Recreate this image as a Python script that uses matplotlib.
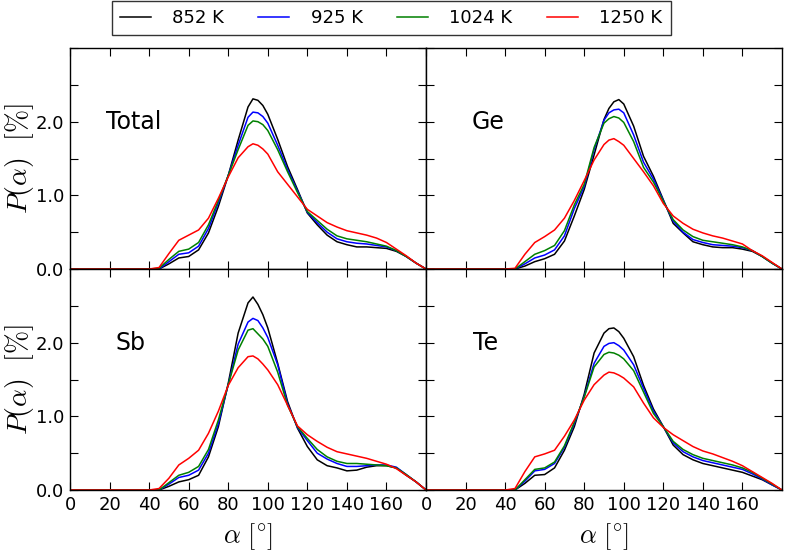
import numpy as np
import matplotlib
matplotlib.use("Agg")
import matplotlib.pyplot as plt
from matplotlib.ticker import FuncFormatter

plt.rcParams['font.family'] = ['DejaVu Sans Condensed', 'Liberation Sans Narrow', 'DejaVu Sans']
plt.rcParams['mathtext.fontset'] = 'cm'

# =========================
# data
# =========================
angle = [0, 40, 45, 50, 55, 60, 65, 70, 75, 80, 85, 90, 92.5, 95, 97.5, 100,
         105, 110, 115, 120, 125, 130, 135, 140, 145, 150, 155, 160, 165, 170, 175, 180]

temps = ["852 K", "925 K", "1024 K", "1250 K"]
colors = ["k", "b", "g", "r"]

total_852 = [0, 0, 0, 0.07, 0.15, 0.17, 0.26, 0.49, 0.85, 1.27, 1.75, 2.20, 2.31, 2.29, 2.22, 2.10,
             1.76, 1.39, 1.08, 0.76, 0.60, 0.46, 0.37, 0.33, 0.30, 0.30, 0.29, 0.28, 0.24, 0.17, 0.08, 0]
total_925 = [0, 0, 0, 0.10, 0.20, 0.22, 0.31, 0.55, 0.90, 1.27, 1.68, 2.06, 2.13, 2.12, 2.07, 1.98,
             1.68, 1.35, 1.06, 0.77, 0.63, 0.50, 0.41, 0.37, 0.35, 0.34, 0.32, 0.30, 0.25, 0.17, 0.08, 0]
total_1024 = [0, 0, 0.01, 0.13, 0.24, 0.27, 0.36, 0.60, 0.93, 1.27, 1.62, 1.95, 2.01, 2.00, 1.96, 1.88,
              1.62, 1.32, 1.04, 0.78, 0.66, 0.54, 0.45, 0.41, 0.39, 0.37, 0.34, 0.31, 0.25, 0.17, 0.08, 0]
total_1250 = [0, 0, 0.02, 0.21, 0.39, 0.46, 0.53, 0.69, 0.96, 1.25, 1.51, 1.66, 1.70, 1.68, 1.63, 1.56,
              1.32, 1.15, 0.98, 0.81, 0.72, 0.63, 0.57, 0.52, 0.49, 0.46, 0.42, 0.36, 0.27, 0.18, 0.08, 0]

ge_852 = [0, 0, 0, 0.04, 0.10, 0.14, 0.20, 0.38, 0.72, 1.08, 1.55, 2.03, 2.18, 2.27, 2.30, 2.24,
          1.94, 1.53, 1.26, 0.94, 0.62, 0.49, 0.37, 0.33, 0.30, 0.29, 0.29, 0.27, 0.24, 0.17, 0.08, 0]
ge_925 = [0, 0, 0, 0.07, 0.15, 0.19, 0.26, 0.45, 0.82, 1.12, 1.62, 2.02, 2.12, 2.16, 2.17, 2.12,
          1.82, 1.45, 1.22, 0.93, 0.65, 0.50, 0.40, 0.36, 0.33, 0.32, 0.31, 0.29, 0.25, 0.17, 0.08, 0]
ge_1024 = [0, 0, 0, 0.10, 0.20, 0.25, 0.32, 0.52, 0.87, 1.15, 1.65, 1.98, 2.04, 2.07, 2.05, 1.99,
           1.73, 1.38, 1.18, 0.92, 0.67, 0.53, 0.44, 0.39, 0.37, 0.35, 0.33, 0.30, 0.25, 0.17, 0.08, 0]
ge_1250 = [0, 0, 0.01, 0.20, 0.36, 0.44, 0.53, 0.69, 0.93, 1.20, 1.48, 1.69, 1.75, 1.77, 1.73, 1.68,
           1.50, 1.32, 1.13, 0.89, 0.72, 0.62, 0.54, 0.49, 0.45, 0.42, 0.38, 0.34, 0.25, 0.18, 0.09, 0]

sb_852 = [0, 0, 0, 0.05, 0.11, 0.14, 0.20, 0.45, 0.86, 1.45, 2.13, 2.54, 2.62, 2.52, 2.38, 2.20,
          1.72, 1.20, 0.84, 0.59, 0.41, 0.33, 0.30, 0.26, 0.27, 0.31, 0.33, 0.33, 0.30, 0.20, 0.11, 0]
sb_925 = [0, 0, 0, 0.08, 0.17, 0.20, 0.27, 0.50, 0.90, 1.43, 1.98, 2.28, 2.33, 2.30, 2.20, 2.07,
          1.70, 1.17, 0.85, 0.67, 0.50, 0.42, 0.36, 0.32, 0.32, 0.33, 0.34, 0.34, 0.31, 0.21, 0.11, 0]
sb_1024 = [0, 0, 0, 0.10, 0.20, 0.24, 0.32, 0.55, 0.95, 1.43, 1.90, 2.17, 2.19, 2.12, 2.05, 1.95,
           1.60, 1.15, 0.86, 0.70, 0.55, 0.45, 0.39, 0.36, 0.36, 0.35, 0.34, 0.33, 0.30, 0.21, 0.11, 0]
sb_1250 = [0, 0, 0.02, 0.16, 0.34, 0.43, 0.54, 0.77, 1.07, 1.42, 1.66, 1.81, 1.82, 1.78, 1.71, 1.63,
           1.43, 1.15, 0.87, 0.75, 0.66, 0.58, 0.52, 0.49, 0.46, 0.43, 0.39, 0.35, 0.29, 0.20, 0.11, 0]

te_852 = [0, 0, 0, 0.09, 0.20, 0.21, 0.30, 0.54, 0.86, 1.30, 1.86, 2.13, 2.19, 2.20, 2.15, 2.06,
          1.81, 1.42, 1.10, 0.86, 0.61, 0.48, 0.41, 0.36, 0.33, 0.30, 0.27, 0.24, 0.19, 0.14, 0.07, 0]
te_925 = [0, 0, 0, 0.12, 0.26, 0.28, 0.36, 0.58, 0.90, 1.27, 1.72, 1.95, 1.99, 2.00, 1.96, 1.90,
          1.70, 1.38, 1.07, 0.86, 0.64, 0.52, 0.45, 0.40, 0.37, 0.34, 0.31, 0.28, 0.22, 0.15, 0.07, 0]
te_1024 = [0, 0, 0, 0.14, 0.28, 0.30, 0.38, 0.60, 0.92, 1.26, 1.67, 1.84, 1.87, 1.86, 1.83, 1.78,
           1.62, 1.33, 1.04, 0.86, 0.66, 0.55, 0.48, 0.43, 0.40, 0.37, 0.34, 0.30, 0.24, 0.16, 0.08, 0]
te_1250 = [0, 0, 0.02, 0.25, 0.45, 0.49, 0.54, 0.73, 0.95, 1.22, 1.43, 1.56, 1.60, 1.59, 1.56, 1.52,
           1.40, 1.18, 0.98, 0.85, 0.75, 0.67, 0.59, 0.53, 0.49, 0.44, 0.39, 0.33, 0.25, 0.17, 0.09, 0]

panels = [
    ("Total", [total_852, total_925, total_1024, total_1250]),
    ("Ge", [ge_852, ge_925, ge_1024, ge_1250]),
    ("Sb", [sb_852, sb_925, sb_1024, sb_1250]),
    ("Te", [te_852, te_925, te_1024, te_1250]),
]
label_x = [18, 23, 23, 24]

# =========================
# plot
# =========================
fig, axes = plt.subplots(2, 2, figsize=(7.87, 5.52), dpi=100, sharex=True, sharey=True)
fig.subplots_adjust(left=0.089, right=0.9936, top=0.913, bottom=0.1123, wspace=0, hspace=0)

ylab = FuncFormatter(lambda v, p: f"{v:.1f}" if abs(v - round(v)) < 1e-6 and v < 2.9 else "")

for i, (name, series) in enumerate(panels):
    ax = axes.flat[i]
    for vals, col, lab in zip(series, colors, temps):
        ax.plot(angle, vals, color=col, lw=1.1, label=lab)
    ax.text(label_x[i], 2.0, name, fontsize=17, va="center", ha="left")
    ax.set_xlim(0, 180)
    ax.set_ylim(0, 3.0)
    ax.set_xticks(np.arange(0, 161, 20))
    ax.set_yticks(np.arange(0, 3.01, 0.5))
    ax.yaxis.set_major_formatter(ylab)
    ax.tick_params(direction="in", top=True, right=True, length=6, labelsize=13, pad=4)
    for s in ax.spines.values():
        s.set_linewidth(1.0)
    if i % 2 == 0:
        ax.set_ylabel(r"$P(\alpha)\ \ [\%]$", fontsize=20)
        ax.yaxis.set_label_coords(-0.095, 0.5)
    if i >= 2:
        ax.set_xlabel(r"$\alpha\ [^{\circ}]$", fontsize=19)
        ax.xaxis.set_label_coords(0.5, -0.14)

handles, labels = axes[0, 0].get_legend_handles_labels()
fig.legend(handles, labels, loc="center", bbox_to_anchor=(0.497, 0.967), ncol=4,
           fontsize=13, frameon=True, fancybox=False, edgecolor="black",
           handlelength=1.7, columnspacing=1.9, borderpad=0.45, handletextpad=1.2)

plt.savefig("out.png", dpi=100)
plt.close(fig)
